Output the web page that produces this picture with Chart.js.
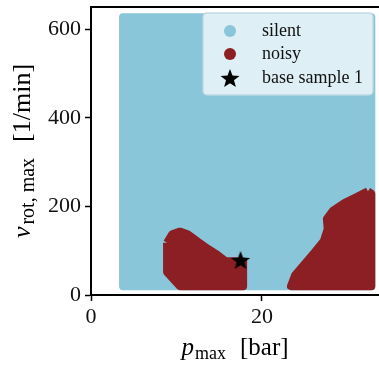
<!DOCTYPE html>
<html>
<head>
<meta charset="utf-8">
<script src="https://cdn.jsdelivr.net/npm/chart.js@4.4.0/dist/chart.umd.min.js"></script>
<style>
html, body { margin: 0; padding: 0; background: #fff; }
</style>
</head>
<body>
<canvas id="plots" width="379" height="369"></canvas>
<script>
// outlines of the regions (p_max in bar, v_rot,max in 1/min)
const silentP = [3.75, 32.8, 32.8, 3.75, 3.75];
const silentV = [20, 20, 627, 627, 20];

const noisyLowP = [8.9, 9.5, 10.4, 11.3, 12.5, 13.7, 14.6, 15.7, 17.8, 17.8, 10.4, 8.9, 8.9];
const noisyLowV = [118, 137, 143, 137, 120, 104, 93, 77, 75, 20, 20, 52, 118];

const noisyHighP = [32.4, 31.2, 29.7, 28.3, 27.6, 27.7, 27.25, 26.2, 25.0, 23.9, 23.4, 32.8, 32.8, 32.4];
const noisyHighV = [234, 222, 208, 190, 172, 149, 122, 97, 70, 45, 20, 20, 229, 234];

const baseP = [17.5];
const baseV = [79];

const xTicks = [0, 20];
const yTicks = [0, 200, 400, 600];

const silentColor = '#89c6da';
const noisyColor = '#8b1f24';
const serif = '"Liberation Serif", "DejaVu Serif", serif';

// zip two arrays into {x, y} points
function pts(ps, vs) {
  return ps.map((p, i) => ({ x: p, y: vs[i] }));
}

// filled black 5-point star used as marker
function makeStar(r) {
  const c = document.createElement('canvas');
  c.width = c.height = Math.ceil(r * 2 + 2);
  const g = c.getContext('2d');
  const cx = c.width / 2, cy = c.height / 2 + 1;
  g.beginPath();
  for (let i = 0; i < 10; i++) {
    const rr = i % 2 === 0 ? r : r * 0.42;
    const a = -Math.PI / 2 + i * Math.PI / 5;
    g.lineTo(cx + rr * Math.cos(a), cy + rr * Math.sin(a));
  }
  g.closePath();
  g.fillStyle = '#000';
  g.fill();
  return c;
}
const star = makeStar(10);

function region(label, ps, vs, color) {
  return {
    label: label,
    data: pts(ps, vs),
    showLine: true,
    fill: 'shape',
    backgroundColor: color,
    borderColor: color,
    borderWidth: 8,
    borderJoinStyle: 'round',
    pointRadius: 0,
    tension: 0
  };
}

// draw a row of text pieces (for sub-scripts), centred on cx
function drawRuns(ctx, parts, cx, y) {
  let total = 0;
  parts.forEach(p => { ctx.font = p.f; p.w = ctx.measureText(p.t).width; total += p.w + (p.gap || 0); });
  let x = cx - total / 2;
  ctx.textAlign = 'left';
  ctx.textBaseline = 'alphabetic';
  parts.forEach(p => {
    ctx.font = p.f;
    ctx.fillText(p.t, x, y + (p.dy || 0));
    x += p.w + (p.gap || 0);
  });
}

const extras = {
  id: 'extras',
  afterDraw(chart) {
    const ctx = chart.ctx;
    const a = chart.chartArea;
    ctx.save();
    // top spine (runs off the right edge like the original)
    ctx.strokeStyle = '#000';
    ctx.lineWidth = 2;
    ctx.beginPath();
    ctx.moveTo(a.left - 1, a.top);
    ctx.lineTo(chart.width, a.top);
    ctx.stroke();

    ctx.fillStyle = '#000';
    // x title
    drawRuns(ctx, [
      { t: 'p', f: 'italic 25px ' + serif, gap: 1 },
      { t: 'max', f: '18px ' + serif, dy: 4, gap: 14 },
      { t: '[bar]', f: '25px ' + serif }
    ], (a.left + a.right) / 2, 355);

    // y title
    ctx.save();
    ctx.translate(30, (a.top + a.bottom) / 2);
    ctx.rotate(-Math.PI / 2);
    drawRuns(ctx, [
      { t: 'v', f: 'italic 26px ' + serif, gap: 2 },
      { t: 'rot, max', f: '20px ' + serif, dy: 4, gap: 16 },
      { t: '[1/min]', f: '26px ' + serif }
    ], 0, 0);
    ctx.restore();

    // legend
    const lx = 203, ly = 13, lw = 170, lh = 82;
    ctx.beginPath();
    ctx.roundRect(lx, ly, lw, lh, 4);
    ctx.fillStyle = 'rgba(255,255,255,0.72)';
    ctx.fill();
    ctx.strokeStyle = 'rgba(190,215,225,0.9)';
    ctx.lineWidth = 1.5;
    ctx.stroke();

    const rows = [
      { label: chart.data.datasets[3].label, kind: 'dot', color: silentColor, y: 31 },
      { label: chart.data.datasets[1].label, kind: 'dot', color: noisyColor, y: 54 },
      { label: chart.data.datasets[0].label, kind: 'star', y: 78 }
    ];
    ctx.font = '18px ' + serif;
    ctx.textBaseline = 'middle';
    ctx.textAlign = 'left';
    rows.forEach(r => {
      if (r.kind === 'dot') {
        ctx.beginPath();
        ctx.arc(230, r.y, 6, 0, Math.PI * 2);
        ctx.fillStyle = r.color;
        ctx.fill();
      } else {
        ctx.drawImage(star, 230 - star.width / 2, r.y - star.height / 2);
      }
      ctx.fillStyle = '#111';
      ctx.fillText(r.label, 262, r.y);
    });
    ctx.restore();
  }
};

new Chart(document.getElementById('plots'), {
  type: 'scatter',
  data: {
    datasets: [
      {
        label: 'base sample 1',
        data: pts(baseP, baseV),
        pointStyle: star,
        pointRadius: 10,
        showLine: false
      },
      region('noisy', noisyLowP, noisyLowV, noisyColor),
      region('noisy', noisyHighP, noisyHighV, noisyColor),
      region('silent', silentP, silentV, silentColor)
    ]
  },
  options: {
    responsive: false,
    animation: false,
    devicePixelRatio: 1,
    layout: { autoPadding: false, padding: { top: 7, right: 0, left: 0, bottom: 0 } },
    plugins: {
      legend: { display: false },
      tooltip: { enabled: false }
    },
    scales: {
      x: {
        type: 'linear',
        min: 0,
        max: 33.7,
        afterFit: s => { s.height = 74; s.paddingLeft = 0; s.paddingRight = 0; },
        afterBuildTicks: s => { s.ticks = xTicks.map(v => ({ value: v })); },
        grid: { drawOnChartArea: false, tickLength: 6, tickColor: '#000', tickWidth: 1.5 },
        border: { display: true, color: '#000', width: 2 },
        ticks: { color: '#111', padding: 3, maxRotation: 0, font: { family: serif, size: 22 } }
      },
      y: {
        type: 'linear',
        min: 0,
        max: 650,
        afterFit: s => { s.width = 91; s.paddingTop = 0; s.paddingBottom = 0; },
        afterBuildTicks: s => { s.ticks = yTicks.map(v => ({ value: v })); },
        grid: { drawOnChartArea: false, tickLength: 6, tickColor: '#000', tickWidth: 1.5 },
        border: { display: true, color: '#000', width: 2 },
        ticks: { color: '#111', padding: 4, font: { family: serif, size: 22 } }
      }
    }
  },
  plugins: [extras]
});
</script>
</body>
</html>
